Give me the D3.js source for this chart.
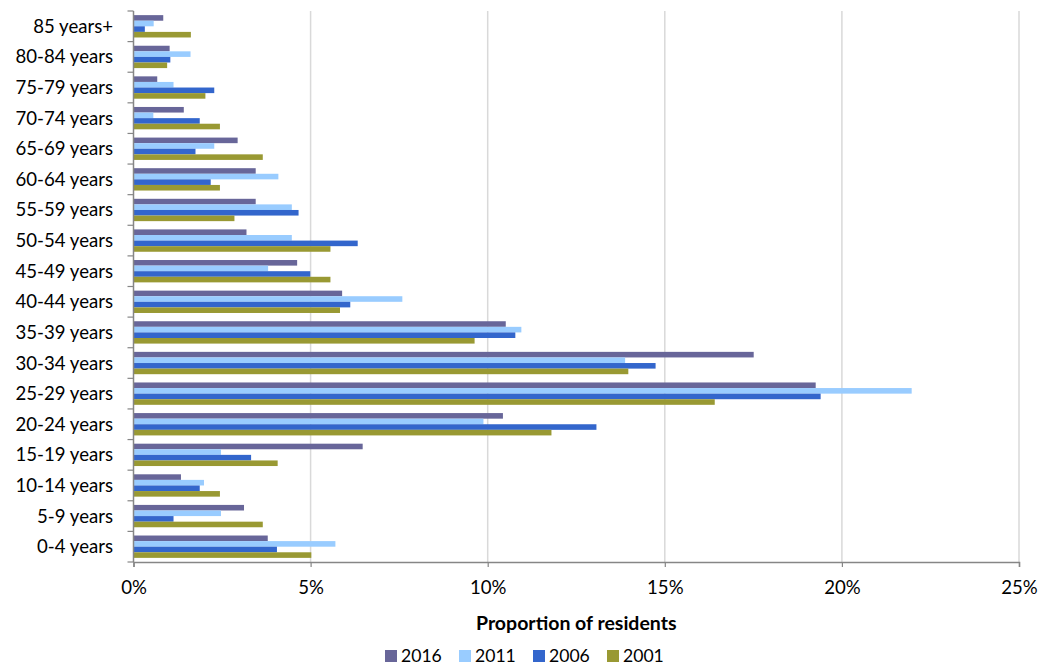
<!DOCTYPE html>
<html>
<head>
<meta charset="utf-8">
<script src="https://cdn.jsdelivr.net/npm/d3@7/dist/d3.min.js"></script>
<style>
  html, body { margin: 0; padding: 0; background: #fff; }
  svg { display: block; font-family: Lato, "Open Sans", sans-serif; }
</style>
</head>
<body>
<svg id="chart" width="1044" height="666"></svg>
<script>
// Age groups, top of chart first
const ageGroups = [
  "85 years+", "80-84 years", "75-79 years", "70-74 years", "65-69 years",
  "60-64 years", "55-59 years", "50-54 years", "45-49 years", "40-44 years",
  "35-39 years", "30-34 years", "25-29 years", "20-24 years", "15-19 years",
  "10-14 years", "5-9 years", "0-4 years"
];

const years = ["2016", "2011", "2006", "2001"];

// Share of residents (%) per age group, same order as ageGroups
const values2016 = [0.84, 1.02, 0.67, 1.42, 2.94, 3.45, 3.45, 3.19, 4.62, 5.89,
                    10.51, 17.51, 19.26, 10.43, 6.47, 1.34, 3.12, 3.79];
const values2011 = [0.57, 1.61, 1.13, 0.56, 2.28, 4.09, 4.47, 4.47, 3.80, 7.59,
                    10.95, 13.88, 21.97, 9.88, 2.47, 1.99, 2.47, 5.70];
const values2006 = [0.32, 1.04, 2.28, 1.87, 1.75, 2.18, 4.66, 6.33, 4.99, 6.12,
                    10.78, 14.74, 19.40, 13.07, 3.32, 1.87, 1.13, 4.05];
const values2001 = [1.62, 0.95, 2.03, 2.44, 3.65, 2.44, 2.85, 5.56, 5.56, 5.83,
                    9.63, 13.97, 16.41, 11.80, 4.07, 2.44, 3.65, 5.02];

const xTicks = [0, 5, 10, 15, 20, 25];
const colors = ["#686699", "#99ccff", "#3366cc", "#999933"];

const seriesValues = [values2016, values2011, values2006, values2001];
const rows = ageGroups.map((g, i) => ({
  group: g,
  vals: years.map((y, k) => ({ year: y, value: seriesValues[k][i], color: colors[k] }))
}));

const FONT = 18.6;
const svg = d3.select("#chart");
const plot = { left: 133.5, right: 1019, top: 11, bottom: 562 };

const x = d3.scaleLinear().domain([0, 25]).range([plot.left, plot.right]);
const y = d3.scaleBand().domain(ageGroups).range([plot.top, plot.bottom]).paddingInner(0.27).paddingOuter(0.135);
const ySub = d3.scaleBand().domain(years).range([0, y.bandwidth()]);

// vertical gridlines
svg.append("g")
  .selectAll("line")
  .data(xTicks.filter(t => t > 0))
  .join("line")
  .attr("x1", d => x(d)).attr("x2", d => x(d))
  .attr("y1", plot.top).attr("y2", plot.bottom)
  .attr("stroke", "#d9d9d9").attr("stroke-width", 1.5);

// bars
const groups = svg.append("g")
  .selectAll("g")
  .data(rows)
  .join("g")
  .attr("transform", d => `translate(0,${y(d.group)})`);

groups.selectAll("rect")
  .data(d => d.vals)
  .join("rect")
  .attr("x", x(0))
  .attr("y", d => ySub(d.year))
  .attr("width", d => x(d.value) - x(0))
  .attr("height", ySub.bandwidth())
  .attr("fill", d => d.color);

// y axis: ticks at band boundaries
const yAxisG = svg.append("g");
const bounds = d3.range(ageGroups.length + 1).map(i => plot.top + i * y.step());
yAxisG.selectAll("line.tick")
  .data(bounds)
  .join("line")
  .attr("class", "tick")
  .attr("x1", plot.left - 6).attr("x2", plot.left)
  .attr("y1", d => d).attr("y2", d => d)
  .attr("stroke", "#868686").attr("stroke-width", 1.2);
yAxisG.append("line")
  .attr("x1", plot.left).attr("x2", plot.left)
  .attr("y1", plot.top).attr("y2", plot.bottom)
  .attr("stroke", "#868686").attr("stroke-width", 1.5);
yAxisG.selectAll("text")
  .data(ageGroups)
  .join("text")
  .attr("x", 113)
  .attr("y", d => y(d) + y.bandwidth() / 2)
  .attr("dy", "0.35em")
  .attr("text-anchor", "end")
  .attr("font-size", FONT)
  .attr("fill", "#000")
  .text(d => d);

// x axis
const xAxis = d3.axisBottom(x)
  .tickValues(xTicks)
  .tickFormat(d => d + "%")
  .tickSize(5)
  .tickPadding(14);
const xAxisG = svg.append("g")
  .attr("transform", `translate(0,${plot.bottom})`)
  .call(xAxis);
xAxisG.select(".domain").attr("stroke", "#868686").attr("stroke-width", 1.5);
xAxisG.selectAll(".tick line").attr("stroke", "#868686").attr("stroke-width", 1.2);
xAxisG.selectAll(".tick text")
  .attr("font-size", FONT)
  .attr("fill", "#000")
  .attr("font-family", "Lato, 'Open Sans', sans-serif");

// axis title
svg.append("text")
  .attr("x", (plot.left + plot.right) / 2)
  .attr("y", 629.5)
  .attr("text-anchor", "middle")
  .attr("font-size", 19.5)
  .attr("font-weight", "bold")
  .attr("fill", "#000")
  .text("Proportion of residents");

// legend
const legendX = [385, 459, 533, 607];
const legend = svg.append("g")
  .selectAll("g")
  .data(years)
  .join("g")
  .attr("transform", (d, i) => `translate(${legendX[i]},655.5)`);
legend.append("rect")
  .attr("x", 0).attr("y", -5.5)
  .attr("width", 12).attr("height", 12)
  .attr("fill", (d, i) => colors[i]);
legend.append("text")
  .attr("x", 16).attr("y", 0)
  .attr("dy", "0.35em")
  .attr("font-size", 17.6)
  .attr("fill", "#000")
  .text(d => d);
</script>
</body>
</html>
